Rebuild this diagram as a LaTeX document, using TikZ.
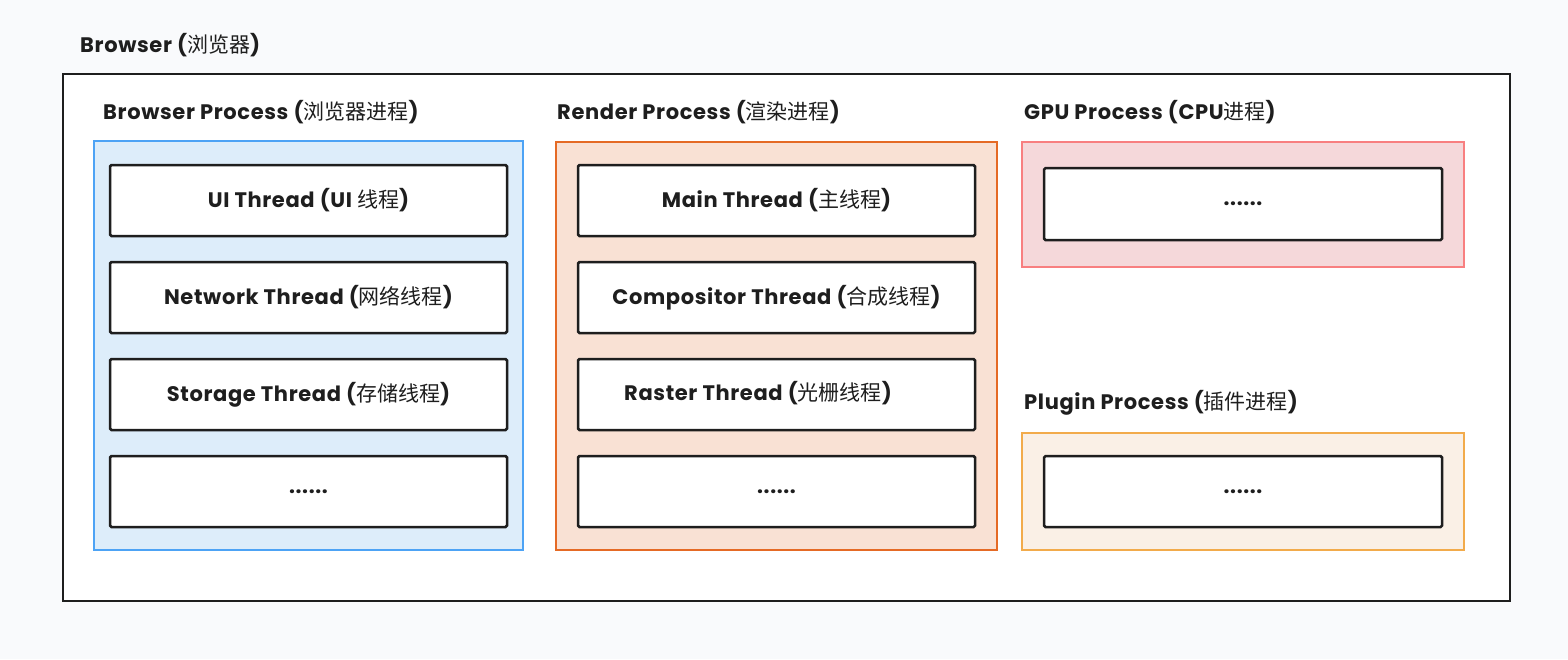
\documentclass[tikz,border=0pt]{standalone}
\usepackage{fontspec}
\setmainfont{Poppins}[LetterSpace=3]
\newfontfamily\cjkfont{Noto Sans CJK SC}
\newcommand{\zhtxt}[1]{{\cjkfont\mdseries #1}}
\definecolor{pagebg}{HTML}{F9FAFC}
\definecolor{ink}{HTML}{1E1E1E}
\definecolor{bluestroke}{HTML}{4DA3F5}
\definecolor{bluefill}{HTML}{DDEDFA}
\definecolor{orangestroke}{HTML}{E56A25}
\definecolor{orangefill}{HTML}{F9E1D4}
\definecolor{redstroke}{HTML}{F87F80}
\definecolor{redfill}{HTML}{F5D8DA}
\definecolor{yellowstroke}{HTML}{F2AB4B}
\definecolor{yellowfill}{HTML}{FAF0E6}
\tikzset{
  lbl/.style={anchor=west, inner sep=0pt, font=\fontsize{21}{24}\selectfont\bfseries, text=ink},
  procbox/.style={line width=2.2pt, minimum width=#1, inner sep=0pt, outer sep=0pt},
  thr/.style={draw=ink, fill=white, line width=2.5pt, rounded corners=1.5pt,
    minimum width=397pt, minimum height=71pt, inner sep=0pt,
    font=\fontsize{21}{24}\selectfont\bfseries, text=ink},
  thrtext/.style={inner sep=0pt, font=\fontsize{21}{24}\selectfont\bfseries, text=ink},
}
\begin{document}
\begin{tikzpicture}[x=1pt,y=-1pt]
\useasboundingbox (0,0) rectangle (1568,659);
\fill[pagebg] (0,0) rectangle (1568,659);
% outer browser box
\node[draw=ink, fill=white, line width=2.2pt, minimum width=1447pt, minimum height=527pt, inner sep=0pt] (browser) at (786.5,337.5) {};
\node[lbl] (browserlbl) at (80,45) {Browser (\zhtxt{浏览器})};

% Browser process
\node[draw=bluestroke, fill=bluefill, procbox=429pt, minimum height=409pt] (bp) at (308.5,345.5) {};
\node[lbl] (bplbl) at (103,112) {Browser Process (\zhtxt{浏览器进程})};
\node[thr] (ui) at (308.5,200.5) {UI Thread (UI \zhtxt{线程})};
\node[thr] (net) at (308.5,297.5) {Network Thread (\zhtxt{网络线程})};
\node[thr] (sto) at (308.5,394.5) {Storage Thread (\zhtxt{存储线程})};
\node[thr] (bpmore) at (308.5,491.5) {......};

% Render process
\node[draw=orangestroke, fill=orangefill, procbox=441pt, minimum height=408pt] (rp) at (776.5,346) {};
\node[lbl] (rplbl) at (557,112) {Render Process (\zhtxt{渲染进程})};
\node[thr] (main) at (776.5,200.5) {Main Thread (\zhtxt{主线程})};
\node[thr] (comp) at (776.5,297.5) {Compositor Thread (\zhtxt{合成线程})};
\node[thr] (ras) at (776.5,394.5) {};
\node[thrtext] (rastxt) at (758,393) {Raster Thread (\zhtxt{光栅线程})};
\node[thr] (rpmore) at (776.5,491.5) {......};

% GPU process
\node[draw=redstroke, fill=redfill, procbox=442pt, minimum height=125pt] (gp) at (1243,204.5) {};
\node[lbl] (gplbl) at (1024,112) {GPU Process (CPU\zhtxt{进程})};
\node[thr, minimum width=398pt, minimum height=72pt] (gpmore) at (1243,204) {......};

% Plugin process
\node[draw=yellowstroke, fill=yellowfill, procbox=442pt, minimum height=117pt] (pp) at (1243,491.5) {};
\node[lbl] (pplbl) at (1024,403) {Plugin Process (\zhtxt{插件进程})};
\node[thr, minimum width=398pt] (ppmore) at (1243,491.5) {......};
\end{tikzpicture}
\end{document}
